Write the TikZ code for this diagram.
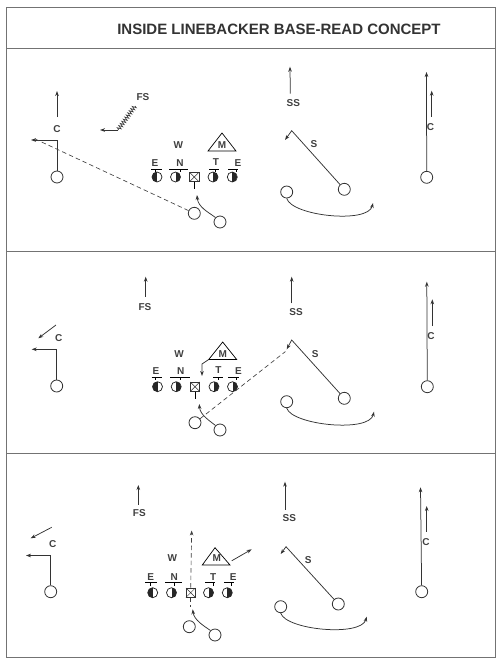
\documentclass[tikz,border=0pt]{standalone}
\usepackage{fontspec}
\setmainfont{Liberation Sans}
\usetikzlibrary{arrows.meta, positioning, calc, decorations.pathmorphing}

\tikzset{
    player/.style={circle, draw=black!80, fill=white, line width=0.8pt, minimum size=12pt, inner sep=0pt},
    lineman/.style={circle, draw=black!85, line width=0.75pt, minimum size=10pt, inner sep=0pt},
    shade left/.style={lineman, path picture={\fill[black!85] (path picture bounding box.north west) rectangle (path picture bounding box.south);}},
    shade right/.style={lineman, path picture={\fill[black!85] (path picture bounding box.north) rectangle (path picture bounding box.south east);}},
    snapbox/.style={rectangle, draw=black!80, fill=white, line width=0.75pt, minimum size=9.5pt, inner sep=0pt,
        path picture={\draw[line width=0.45pt] (path picture bounding box.north west) -- (path picture bounding box.south east)
            (path picture bounding box.north east) -- (path picture bounding box.south west);}},
    tag/.style={font=\fontsize{10}{12}\selectfont\bfseries, text=black!75, inner sep=0pt},
    route/.style={draw=black!80, line width=0.75pt, ->},
    pass/.style={draw=black!75, line width=0.65pt, dash pattern=on 4.5pt off 3pt},
    frame/.style={draw=black!55, line width=1pt},
}

\begin{document}
\begin{tikzpicture}[x=1pt, y=-1pt, >={Stealth[length=5pt, width=3.6pt]}]
    \useasboundingbox (0,0) rectangle (500,659);
    \draw[frame] (6,7) rectangle (495,657);
    \draw[frame] (6,48) -- (495,48);
    \draw[frame] (6,251) -- (495,251);
    \draw[frame] (6,453) -- (495,453);
    \node[font=\fontsize{15}{18}\selectfont\bfseries, text=black!80] (title) at (279,29) {INSIDE LINEBACKER BASE-READ CONCEPT};

    % top
    \node[player] (wr_left_one) at (57,177) {};
    \node[tag] (c_left_one) at (57,129) {C};
    \coordinate (out_left_one) at (31,140);
    \coordinate (up_left_one) at (57,91);
    \draw[route] (wr_left_one.north) |- (out_left_one);
    \draw[route] ($(c_left_one)+(0,-12)$) -- (up_left_one);

    \node[tag] (fs_one) at (143,97) {FS};
    \coordinate (fs_start_one) at (135,106);
    \coordinate (fs_turn_one) at (118,130);
    \coordinate (fs_end_one) at (100,130);
    \draw[draw=black!80, line width=0.6pt, decorate, decoration={zigzag, segment length=2.6pt, amplitude=2pt}] (fs_start_one) -- (fs_turn_one);
    \draw[route] (fs_turn_one) -- (fs_end_one);

    \node[shade left] (e_left_one) at (157,177) {};
    \node[shade right] (n_one) at (175.5,177) {};
    \node[snapbox] (snap_one) at (194.3,177) {};
    \node[shade right] (t_one) at (213,177) {};
    \node[shade right] (e_right_one) at (232.3,177) {};
    \node[tag] (e_left_tag_one) at (155,163) {E};
    \node[tag] (n_tag_one) at (180,163) {N};
    \node[tag] (t_tag_one) at (216,162) {T};
    \node[tag] (e_right_tag_one) at (238,163) {E};
    \draw[line width=0.6pt] (151,169) -- (162,169) (155,169) -- (155,172);
    \draw[line width=0.6pt] (169,169) -- (188,169) (180,169) -- (180,172);
    \draw[line width=0.6pt] (209,169) -- (219,169) (215,169) -- (215,172);
    \draw[line width=0.6pt] (228,169) -- (238,169) (236,169) -- (236,172);
    \node[tag] (w_one) at (178.3,145.5) {W};
    \node[tag] (m_one) at (222,145) {M};
    \draw[line width=0.7pt] ($(m_one)+(-14,6)$) -- ($(m_one)+(0,-12)$) -- ($(m_one)+(14,6)$) -- cycle;

    \node[player] (qb_one) at (194.3,213.3) {};
    \node[player] (rb_one) at (220,222) {};
    \coordinate (rb_end_one) at (197,195);
    \draw[line width=0.7pt] (snap_one.south) -- ++(0,7);
    \draw[route] (rb_one.north west) .. controls (208,212) and (198,207) .. (rb_end_one);
    \coordinate (throw_one) at (33,138);
    \draw[pass] (qb_one) -- (throw_one);

    \node[tag] (ss_one) at (293.3,102.7) {SS};
    \coordinate (ss_end_one) at (290,66.7);
    \draw[route] ($(ss_one)+(-3,-9)$) -- (ss_end_one);
    \node[player] (slot_one) at (344.3,189.3) {};
    \coordinate (slot_turn_one) at (291.7,130.7);
    \coordinate (slot_end_one) at (285,140);
    \node[tag] (s_one) at (314,144.3) {S};
    \draw[route] (slot_one) -- (slot_turn_one) -- (slot_end_one);
    \node[player] (back_one) at (286.7,192) {};
    \coordinate (back_end_one) at (373,203);
    \draw[route] (back_one.south) .. controls (292,216) and (368,224) .. (back_end_one);

    \node[player] (wr_right_one) at (426.7,177.3) {};
    \coordinate (go_right_one) at (426.5,72);
    \draw[route] (wr_right_one) -- (go_right_one);
    \node[tag] (c_right_one) at (430.5,126.7) {C};
    \coordinate (up_right_one) at (431.7,90.7);
    \draw[route] ($(c_right_one)+(1.2,-10)$) -- (up_right_one);

    % middle
    \node[tag] (fs_two) at (145,307.3) {FS};
    \coordinate (fs_end_two) at (145.7,276.7);
    \draw[route] ($(fs_two)+(0.7,-10.6)$) -- (fs_end_two);

    \node[player] (wr_left_two) at (56.7,386) {};
    \coordinate (out_left_two) at (31.7,349.3);
    \draw[route] (wr_left_two.north) |- (out_left_two);
    \node[tag] (c_left_two) at (58.7,337.7) {C};
    \coordinate (curl_top_two) at (56,325);
    \coordinate (curl_end_two) at (38.3,338.3);
    \draw[route] (curl_top_two) -- (curl_end_two);

    \node[shade left] (e_left_two) at (157.5,386.7) {};
    \node[shade right] (n_two) at (176.2,386.7) {};
    \node[snapbox] (snap_two) at (195,386.7) {};
    \node[shade right] (t_two) at (214,386.7) {};
    \node[shade right] (e_right_two) at (232.5,386.7) {};
    \node[tag] (e_left_tag_two) at (156,371) {E};
    \node[tag] (n_tag_two) at (180.7,371) {N};
    \node[tag] (t_tag_two) at (218.5,370.5) {T};
    \node[tag] (e_right_tag_two) at (238.5,371) {E};
    \draw[line width=0.6pt] (151.5,377) -- (162,377) (155.5,377) -- (155.5,380);
    \draw[line width=0.6pt] (170,377) -- (190,377) (180.7,377) -- (180.7,380);
    \draw[line width=0.6pt] (213,377) -- (223,377) (218.5,377) -- (218.5,380);
    \draw[line width=0.6pt] (228,377) -- (238.5,377) (236.5,377) -- (236.5,380);
    \node[tag] (w_two) at (179,354) {W};
    \node[tag] (m_two) at (222.7,354) {M};
    \draw[line width=0.7pt] ($(m_two)+(-14,5.5)$) -- ($(m_two)+(0,-12)$) -- ($(m_two)+(14,5.5)$) -- cycle;
    \coordinate (m_turn_two) at (202,364);
    \coordinate (m_end_two) at (202,376);
    \draw[route] ($(m_two)+(-14,5.5)$) -- (m_turn_two) -- (m_end_two);

    \node[player] (qb_two) at (195,422.7) {};
    \node[player] (rb_two) at (220,430) {};
    \coordinate (rb_end_two) at (199.3,404);
    \draw[line width=0.7pt] (snap_two.south) -- ++(0,7);
    \draw[route] (rb_two.north west) .. controls (210,421) and (200,415) .. (rb_end_two);
    \coordinate (throw_two) at (285.5,351.5);
    \draw[pass] (qb_two) -- (throw_two);

    \node[tag] (ss_two) at (296,312.3) {SS};
    \coordinate (ss_end_two) at (291.7,276.7);
    \draw[route] ($(ss_two)+(-4.3,-9)$) -- (ss_end_two);
    \node[player] (slot_two) at (344.3,398.3) {};
    \coordinate (slot_turn_two) at (291.7,340);
    \coordinate (slot_end_two) at (286.7,349.3);
    \node[tag] (s_two) at (315.3,354) {S};
    \draw[route] (slot_two) -- (slot_turn_two) -- (slot_end_two);
    \node[player] (back_two) at (286.7,401.7) {};
    \coordinate (back_end_two) at (374,411.7);
    \draw[route] (back_two.south) .. controls (292,425) and (369,433) .. (back_end_two);

    \node[player] (wr_right_two) at (427.3,386.7) {};
    \coordinate (go_right_two) at (426.8,281.7);
    \draw[route] (wr_right_two) -- (go_right_two);
    \node[tag] (c_right_two) at (431,336) {C};
    \coordinate (up_right_two) at (432.3,299.3);
    \draw[route] ($(c_right_two)+(1.3,-10)$) -- (up_right_two);

    % bottom
    \node[tag] (fs_three) at (139.3,512.7) {FS};
    \coordinate (fs_end_three) at (138.3,485);
    \draw[route] ($(fs_three)+(-1,-8)$) -- (fs_end_three);

    \node[player] (wr_left_three) at (50.7,591.7) {};
    \coordinate (out_left_three) at (26,555.5);
    \draw[route] (wr_left_three.north) |- (out_left_three);
    \node[tag] (c_left_three) at (52.7,544) {C};
    \coordinate (curl_top_three) at (51.7,527.3);
    \coordinate (curl_end_three) at (30.7,538.3);
    \draw[route] (curl_top_three) -- (curl_end_three);

    \node[shade left] (e_left_three) at (152.7,592.7) {};
    \node[shade right] (n_three) at (171.5,592.7) {};
    \node[snapbox] (snap_three) at (190.7,592.7) {};
    \node[shade right] (t_three) at (208.5,592.7) {};
    \node[shade right] (e_right_three) at (227.3,592.7) {};
    \node[tag] (e_left_tag_three) at (150.7,577) {E};
    \node[tag] (n_tag_three) at (174.3,577.5) {N};
    \node[tag] (t_tag_three) at (213.3,577) {T};
    \node[tag] (e_right_tag_three) at (233.3,577.5) {E};
    \draw[line width=0.6pt] (145,582.5) -- (156.7,582.5) (150.7,582.5) -- (150.7,585.5);
    \draw[line width=0.6pt] (165,582.5) -- (181.7,582.5) (174.3,582.5) -- (174.3,585.5);
    \draw[line width=0.6pt] (205,582.5) -- (215,582.5) (213,582.5) -- (213,585.5);
    \draw[line width=0.6pt] (224.3,582.5) -- (234,582.5) (231.5,582.5) -- (231.5,585.5);
    \node[tag] (w_three) at (172.3,558.3) {W};
    \node[tag] (m_three) at (216.7,558.3) {M};
    \draw[line width=0.7pt] ($(m_three)+(-14.4,6.7)$) -- ($(m_three)+(-1.7,-10.6)$) -- ($(m_three)+(13.3,6.7)$) -- cycle;
    \coordinate (m_end_three) at (251.7,549.3);
    \draw[route] ($(m_three)+(15,2.5)$) -- (m_end_three);

    \node[player] (qb_three) at (189.3,626.7) {};
    \node[player] (rb_three) at (215,635) {};
    \coordinate (seam_three) at (191.7,530.5);
    \draw[pass, ->] (snap_three.north) -- (seam_three);
    \draw[pass] (snap_three.south) -- ++(0,9);
    \coordinate (rb_end_three) at (192.7,609.3);
    \draw[route] (rb_three.north west) .. controls (204,626) and (194,620) .. (rb_end_three);

    \node[tag] (ss_three) at (289.3,518.3) {SS};
    \coordinate (ss_end_three) at (285,481.7);
    \draw[route] ($(ss_three)+(-4.3,-8.5)$) -- (ss_end_three);
    \node[player] (slot_three) at (338.3,604) {};
    \coordinate (slot_turn_three) at (286,546.7);
    \coordinate (slot_end_three) at (280.7,554);
    \node[tag] (s_three) at (308.3,560) {S};
    \draw[route] (slot_three) -- (slot_turn_three) -- (slot_end_three);
    \node[player] (back_three) at (280.7,606.7) {};
    \coordinate (back_end_three) at (366.7,616.7);
    \draw[route] (back_three.south) .. controls (286,630) and (361,637) .. (back_end_three);

    \node[player] (wr_right_three) at (421.7,591.7) {};
    \coordinate (go_right_three) at (420.5,487.3);
    \draw[route] (wr_right_three) -- (go_right_three);
    \node[tag] (c_right_three) at (426,541.7) {C};
    \coordinate (up_right_three) at (426.7,506);
    \draw[route] ($(c_right_three)+(0.7,-10)$) -- (up_right_three);
\end{tikzpicture}
\end{document}
